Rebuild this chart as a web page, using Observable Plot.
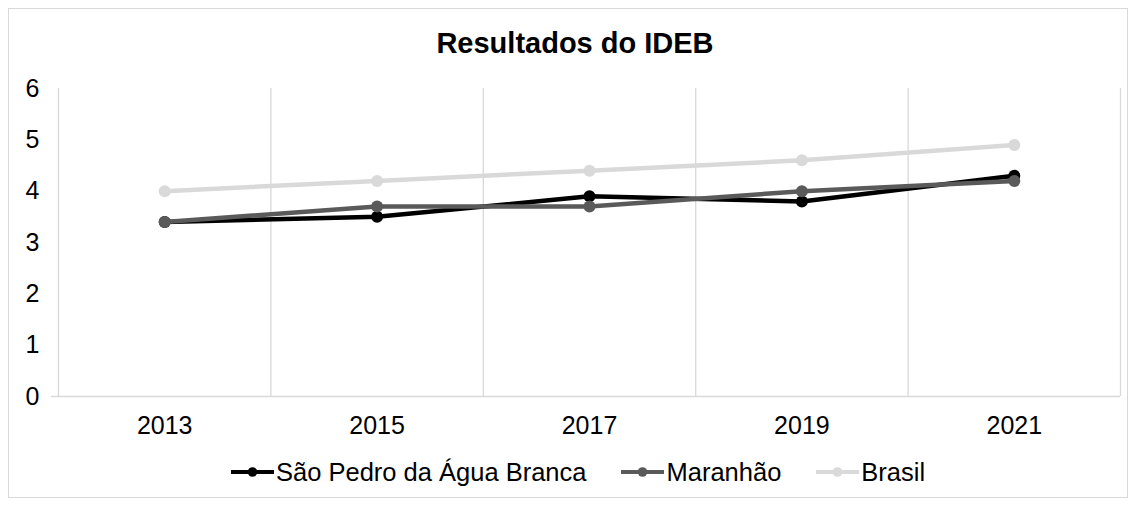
<!DOCTYPE html>
<html>
<head>
<meta charset="utf-8">
<script src="https://cdn.jsdelivr.net/npm/d3@7"></script>
<script src="https://cdn.jsdelivr.net/npm/@observablehq/plot@0.6"></script>
<style>
  html, body { margin: 0; padding: 0; background: #fff; }
  body { width: 1135px; height: 506px; position: relative; overflow: hidden; font-family: "Liberation Sans", Arial, sans-serif; }
  #frame { position: absolute; left: 8px; top: 8px; width: 1120px; height: 490px; box-sizing: border-box; border: 1px solid #d9d9d9; }
  #title { position: absolute; left: 15px; width: 1120px; top: 26px; text-align: center; font-size: 29px; font-weight: bold; color: #000; line-height: 34px; }
  #chart { position: absolute; left: 0; top: 70px; }
  #legend { position: absolute; left: 231px; top: 457px; display: flex; justify-content: flex-start; font-size: 25.5px; line-height: 30px; color: #000; white-space: nowrap; }
  .item { display: flex; align-items: center; margin-right: 35px; }
  .item svg { margin-right: 2px; }
</style>
</head>
<body>
<div id="frame"></div>
<div id="title">Resultados do IDEB</div>
<div id="chart"></div>
<div id="legend"></div>
<script>
const years = [2013, 2015, 2017, 2019, 2021];
const seriesNames = ["São Pedro da Água Branca", "Maranhão", "Brasil"];
const saoPedro = [3.4, 3.5, 3.9, 3.8, 4.3];
const maranhao = [3.4, 3.7, 3.7, 4.0, 4.2];
const brasil = [4.0, 4.2, 4.4, 4.6, 4.9];
const yTicks = [0, 1, 2, 3, 4, 5, 6];
const gridYears = [2012, 2014, 2016, 2018, 2020, 2022];
const colors = ["#000000", "#5a5a5a", "#d9d9d9"];

const valuesBySeries = [saoPedro, maranhao, brasil];
const data = [];
seriesNames.forEach((s, i) => years.forEach((y, j) => data.push({series: s, year: y, value: valuesBySeries[i][j]})));

const marks = [
  Plot.ruleX(gridYears, {x: d => d, y1: 0, y2: 6, stroke: "#d9d9d9", strokeWidth: 1.3}),
  Plot.ruleY([0], {stroke: "#d9d9d9", strokeWidth: 1.3, insetLeft: -7}),
  Plot.axisX({ticks: years, tickSize: 0, tickPadding: 20, fontSize: 25, tickFormat: d => String(d), label: null, fill: "#000"}),
  Plot.axisY({ticks: yTicks, tickSize: 0, tickPadding: 19, fontSize: 25, tickFormat: d => String(d), label: null, fill: "#000"})
];
seriesNames.forEach((s) => {
  const rows = data.filter(d => d.series === s);
  marks.push(Plot.line(rows, {x: "year", y: "value", stroke: "series", strokeWidth: 4.5, strokeLinejoin: "round"}));
  marks.push(Plot.dot(rows, {x: "year", y: "value", fill: "series", r: 6}));
});

const chart = Plot.plot({
  width: 1135,
  height: 375,
  marginLeft: 58,
  marginRight: 15,
  marginTop: 18,
  marginBottom: 49,
  style: {fontFamily: "'Liberation Sans', Arial, sans-serif", background: "transparent", color: "#000"},
  x: {type: "linear", domain: [2012, 2022]},
  y: {domain: [0, 6]},
  color: {domain: seriesNames, range: colors},
  marks
});
document.getElementById("chart").appendChild(chart);

const legend = document.getElementById("legend");
seriesNames.forEach((s, i) => {
  const item = document.createElement("div");
  item.className = "item";
  item.innerHTML = `<svg width="43" height="14"><line x1="0" x2="43" y1="7" y2="7" stroke="${colors[i]}" stroke-width="4"/><circle cx="21.5" cy="7" r="4.8" fill="${colors[i]}"/></svg><span>${s}</span>`;
  legend.appendChild(item);
});
</script>
</body>
</html>
